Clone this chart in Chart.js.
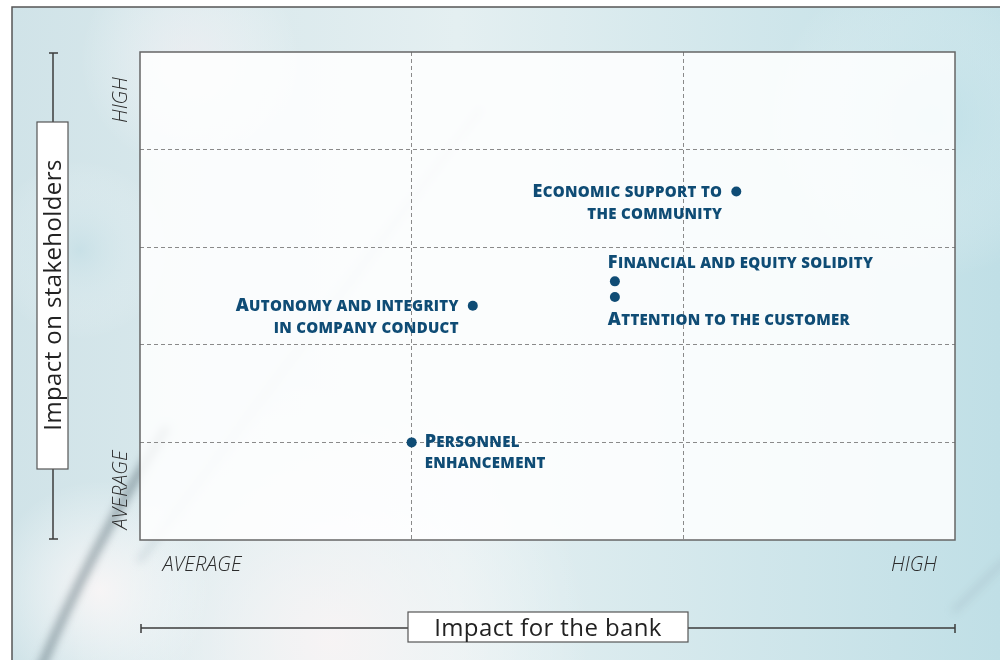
<!DOCTYPE html>
<html>
<head>
<meta charset="utf-8">
<script src="https://cdn.jsdelivr.net/npm/chart.js@4.4.0/dist/chart.umd.min.js"></script>
<style>
  html, body { margin: 0; padding: 0; background: #fff; }
  #wrap { width: 1000px; height: 660px; }
</style>
</head>
<body>
<div id="wrap"><canvas id="matrix" width="1000" height="660"></canvas></div>
<script>
const issues = [
  ["Economic support to", "the community"],
  ["Financial and equity solidity"],
  ["Attention to the customer"],
  ["Autonomy and integrity", "in company conduct"],
  ["Personnel", "enhancement"]
];
const bankImpact = [2.195, 1.748, 1.748, 1.225, 1.0];
const stakeholderImpact = [3.57, 2.65, 2.49, 2.40, 1.0];
const xTickLabels = ["AVERAGE", "HIGH"];
const yTickLabels = ["AVERAGE", "HIGH"];
const xTitle = "Impact for the bank";
const yTitle = "Impact on stakeholders";

// where each label sits relative to its dot (style only)
const labelSide = ["left", "above", "below", "left", "right"];

const INK = "#0f4c75";
const BIG = "800 18px 'Open Sans'";
const SMALL = "800 15px 'Open Sans'";
const SPACING = "0.3px";

function smallCapsWidth(ctx, text, big) {
  let w = 0;
  ctx.letterSpacing = SPACING;
  if (big) { ctx.font = BIG; w += ctx.measureText(text[0]).width; }
  ctx.font = SMALL;
  w += ctx.measureText((big ? text.slice(1) : text).toUpperCase()).width;
  return w;
}

function drawSmallCaps(ctx, text, x, y, align, big) {
  const w = smallCapsWidth(ctx, text, big);
  let cx = align === "right" ? x - w : x;
  ctx.textAlign = "left";
  ctx.textBaseline = "alphabetic";
  ctx.fillStyle = INK;
  ctx.letterSpacing = SPACING;
  if (big) {
    ctx.font = BIG;
    ctx.fillText(text[0], cx, y);
    cx += ctx.measureText(text[0]).width;
  }
  ctx.font = SMALL;
  ctx.fillText((big ? text.slice(1) : text).toUpperCase(), cx, y);
  ctx.letterSpacing = "0px";
}

const backdrop = {
  id: "backdrop",
  beforeDraw(chart) {
    const ctx = chart.ctx;
    const W = chart.width, H = chart.height;
    ctx.save();
    ctx.fillStyle = "#fff";
    ctx.fillRect(0, 0, W, H);
    const g = ctx.createLinearGradient(12, 0, W, 0);
    g.addColorStop(0, "#d0e3e8");
    g.addColorStop(0.45, "#e4eff1");
    g.addColorStop(1, "#c0dfe6");
    ctx.fillStyle = g;
    ctx.fillRect(12, 7, W - 12, H - 7);
    // soft light patches of the photo
    [[330, 640, 260, "rgba(255,246,246,0.75)"], [190, 60, 110, "rgba(245,240,244,0.6)"],
     [100, 590, 110, "rgba(255,248,248,0.8)"], [930, 120, 160, "rgba(185,222,230,0.6)"],
     [80, 250, 90, "rgba(190,220,228,0.5)"]].forEach(p => {
      const r = ctx.createRadialGradient(p[0], p[1], 0, p[0], p[1], p[2]);
      r.addColorStop(0, p[3]);
      r.addColorStop(1, "rgba(255,255,255,0)");
      ctx.fillStyle = r;
      ctx.fillRect(12, 7, W - 12, H - 7);
    });
    // blurred grass streaks
    ctx.filter = "blur(4px)";
    ctx.lineCap = "round";
    ctx.strokeStyle = "rgba(85,105,115,0.55)";
    ctx.lineWidth = 8;
    ctx.beginPath();
    ctx.moveTo(38, 675);
    ctx.quadraticCurveTo(85, 560, 165, 430);
    ctx.stroke();
    ctx.strokeStyle = "rgba(150,170,180,0.35)";
    ctx.lineWidth = 5;
    ctx.beginPath();
    ctx.moveTo(140, 560);
    ctx.lineTo(480, 110);
    ctx.stroke();
    ctx.beginPath();
    ctx.moveTo(955, 610);
    ctx.lineTo(1005, 560);
    ctx.stroke();
    ctx.filter = "none";
    // frame
    ctx.strokeStyle = "#555";
    ctx.lineWidth = 1.5;
    ctx.beginPath();
    ctx.moveTo(12, H);
    ctx.lineTo(12, 7);
    ctx.lineTo(W, 7);
    ctx.stroke();
    // plot panel
    const a = chart.chartArea;
    ctx.fillStyle = "rgba(255,255,255,0.86)";
    ctx.fillRect(a.left, a.top, a.right - a.left, a.bottom - a.top);
    ctx.restore();
  },
  beforeDatasetsDraw(chart) {
    const ctx = chart.ctx, a = chart.chartArea;
    ctx.save();
    ctx.strokeStyle = "#666";
    ctx.lineWidth = 1.5;
    ctx.strokeRect(a.left, a.top, a.right - a.left, a.bottom - a.top);
    ctx.restore();
  },
  afterDraw(chart) {
    const ctx = chart.ctx, a = chart.chartArea;
    const pts = chart.getDatasetMeta(0).data;
    ctx.save();

    // labels of the points
    issues.forEach((lines, i) => {
      const px = pts[i].x, py = pts[i].y;
      const side = labelSide[i];
      lines.forEach((t, k) => {
        const big = k === 0;
        if (side === "left") drawSmallCaps(ctx, t, px - 14, py + 5 + k * 22, "right", big);
        else if (side === "right") drawSmallCaps(ctx, t, px + 13, py + 5 + k * 21, "left", big);
        else if (side === "above") drawSmallCaps(ctx, t, px - 7, py - 13 + k * 22, "left", big);
        else drawSmallCaps(ctx, t, px - 7, py + 28 + k * 22, "left", big);
      });
    });

    // level words on the axes
    ctx.fillStyle = "#2b2b2b";
    ctx.font = "italic 300 20px 'Open Sans'";
    ctx.textBaseline = "alphabetic";
    ctx.textAlign = "center";
    ctx.fillText(xTickLabels[0], 202, 571);
    ctx.fillText(xTickLabels[1], 914, 571);
    ctx.save();
    ctx.translate(127, 490);
    ctx.rotate(-Math.PI / 2);
    ctx.fillText(yTickLabels[0], 0, 0);
    ctx.restore();
    ctx.save();
    ctx.translate(127, 100);
    ctx.rotate(-Math.PI / 2);
    ctx.fillText(yTickLabels[1], 0, 0);
    ctx.restore();

    // axis brackets
    ctx.strokeStyle = "#3d3d3d";
    ctx.lineWidth = 1.5;
    ctx.beginPath();
    ctx.moveTo(53, a.top + 1); ctx.lineTo(53, a.bottom - 1);
    ctx.moveTo(49, a.top + 1); ctx.lineTo(58, a.top + 1);
    ctx.moveTo(49, a.bottom - 1); ctx.lineTo(58, a.bottom - 1);
    ctx.moveTo(a.left + 1, 628); ctx.lineTo(a.right, 628);
    ctx.moveTo(a.left + 1, 624); ctx.lineTo(a.left + 1, 633);
    ctx.moveTo(a.right, 624); ctx.lineTo(a.right, 633);
    ctx.stroke();

    // title boxes
    ctx.fillStyle = "#fff";
    ctx.strokeStyle = "#555";
    ctx.lineWidth = 1.2;
    ctx.fillRect(408, 612, 280, 30);
    ctx.strokeRect(408, 612, 280, 30);
    ctx.fillRect(37, 122, 31, 347);
    ctx.strokeRect(37, 122, 31, 347);

    ctx.fillStyle = "#222";
    ctx.font = "24px 'Open Sans'";
    ctx.letterSpacing = "0.4px";
    ctx.textAlign = "center";
    ctx.fillText(xTitle, 548, 636);
    ctx.save();
    ctx.translate(61, 295);
    ctx.rotate(-Math.PI / 2);
    ctx.fillText(yTitle, 0, 0);
    ctx.restore();
    ctx.letterSpacing = "0px";

    ctx.restore();
  }
};

const edgeless = c => (c.index === 0 || c.index === c.chart.scales[c.scale.id].ticks.length - 1) ? "rgba(0,0,0,0)" : "#8a8a8a";

new Chart(document.getElementById("matrix"), {
  type: "scatter",
  data: {
    datasets: [{
      data: bankImpact.map((x, i) => ({ x: x, y: stakeholderImpact[i] })),
      backgroundColor: INK,
      borderWidth: 0,
      pointRadius: 5,
      pointHoverRadius: 5
    }]
  },
  options: {
    responsive: false,
    animation: false,
    layout: { padding: { left: 140, top: 52, right: 45, bottom: 120 } },
    plugins: { legend: { display: false }, tooltip: { enabled: false } },
    scales: {
      x: {
        min: 0, max: 3,
        ticks: { display: false, stepSize: 1 },
        grid: { color: c => edgeless(c), lineWidth: 1, drawTicks: false },
        border: { display: false, dash: [4, 3] }
      },
      y: {
        min: 0, max: 5,
        ticks: { display: false, stepSize: 1 },
        grid: { color: c => edgeless(c), lineWidth: 1, drawTicks: false },
        border: { display: false, dash: [4, 3] }
      }
    }
  },
  plugins: [backdrop]
});
</script>
</body>
</html>
